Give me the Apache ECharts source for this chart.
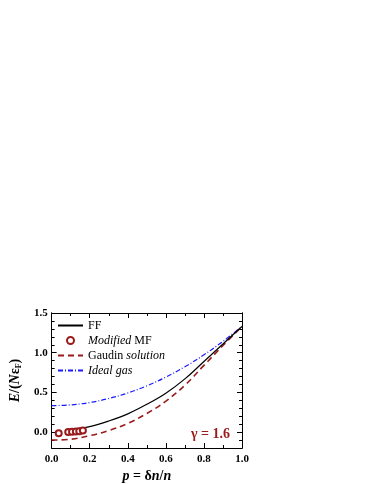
<!DOCTYPE html>
<html>
<head>
<meta charset="utf-8">
<script src="https://cdn.jsdelivr.net/npm/echarts@6/dist/echarts.min.js"></script>
<style>
  html, body { margin: 0; padding: 0; background: #fff; }
  #chart { width: 374px; height: 484px; }
</style>
</head>
<body>
<div id="chart"></div>
<script>
// values
const pGrid = [0, 0.1, 0.2, 0.3, 0.4, 0.5, 0.6, 0.7, 0.8, 0.9, 1.0];
const ffP = [0.09, 0.1, 0.2, 0.3, 0.4, 0.5, 0.6, 0.7, 0.8, 0.9, 1.0];
const ffE = [0.02, 0.03, 0.07, 0.14, 0.23, 0.35, 0.49, 0.67, 0.89, 1.11, 1.33];
const gaudinE = [-0.10, -0.09, -0.045, 0.02, 0.11, 0.235, 0.39, 0.59, 0.84, 1.09, 1.33];
const idealE = [0.333, 0.343, 0.373, 0.423, 0.493, 0.583, 0.693, 0.823, 0.973, 1.143, 1.333];
const mfP = [0.037, 0.087, 0.107, 0.127, 0.145, 0.164];
const mfE = [-0.015, 0.0, 0.005, 0.008, 0.012, 0.02];

const yMajor = [0, 0.5, 1.0, 1.5];
const yMinor = [-0.1, 0.1, 0.2, 0.3, 0.4, 0.6, 0.7, 0.8, 0.9, 1.1, 1.2, 1.3, 1.4];
const legendNames = ['FF', 'Modified MF', 'Gaudin solution', 'Ideal gas'];

const zip = (xs, ys) => xs.map((x, i) => [x, ys[i]]);

const serif = 'Liberation Serif';
const darkRed = '#9a1b1b';

const chart = echarts.init(document.getElementById('chart'), null, { renderer: 'canvas' });

function yAxisOf(pos, ticks, len, labels) {
  return {
    type: 'value', position: pos, min: -0.2, max: 1.5,
    axisLine: { show: true, onZero: false, lineStyle: { color: '#000', width: 1 } },
    axisTick: { show: true, inside: true, length: len, customValues: ticks, lineStyle: { color: '#000' } },
    axisLabel: labels ? {
      show: true, customValues: ticks, margin: 4, fontFamily: serif, fontWeight: 'bold',
      fontSize: 11, color: '#000', formatter: v => v.toFixed(1)
    } : { show: false },
    splitLine: { show: false }
  };
}
function xAxisOf(pos, labels) {
  return {
    type: 'value', position: pos, min: 0, max: 1, interval: 0.2,
    axisLine: { show: true, onZero: false, lineStyle: { color: '#000', width: 1 } },
    axisTick: { show: true, inside: true, length: 5, lineStyle: { color: '#000' } },
    minorTick: { show: true, splitNumber: 2, length: 3, lineStyle: { color: '#000' } },
    axisLabel: labels ? {
      show: true, margin: 6, fontFamily: serif, fontWeight: 'bold',
      fontSize: 11, color: '#000', formatter: v => v.toFixed(1)
    } : { show: false },
    splitLine: { show: false }
  };
}

const xMain = xAxisOf('bottom', true);
xMain.name = '{i|p} = δ{i|n}/{i|n}';
xMain.nameLocation = 'middle';
xMain.nameGap = 21;
xMain.nameTextStyle = {
  fontFamily: serif, fontWeight: 'bold', fontSize: 14, color: '#000',
  rich: { i: { fontFamily: serif, fontWeight: 'bold', fontStyle: 'italic', fontSize: 14, color: '#000' } }
};

const yMain = yAxisOf('left', yMajor, 5, true);
yMain.name = '{i|E}/({i|N}ε{s|F})';
yMain.nameLocation = 'middle';
yMain.nameGap = 27;
yMain.nameTextStyle = {
  fontFamily: serif, fontWeight: 'bold', fontSize: 14, color: '#000',
  rich: {
    i: { fontFamily: serif, fontWeight: 'bold', fontStyle: 'italic', fontSize: 14, color: '#000' },
    s: { fontFamily: serif, fontWeight: 'bold', fontSize: 8, color: '#000', padding: [8, 0, 0, 0] }
  }
};

const hideMark = { opacity: 0 };

const option = {
  backgroundColor: '#fff',
  animation: false,
  grid: { left: 43, right: 132, top: 313, bottom: 32 },
  legend: {
    orient: 'vertical', left: 57, top: 318, padding: 0, itemGap: 0,
    itemWidth: 25, itemHeight: 7,
    data: [
      { name: legendNames[0], itemStyle: hideMark },
      { name: legendNames[1], icon: 'emptyCircle', itemStyle: { borderWidth: 1, borderColor: darkRed, color: darkRed } },
      { name: legendNames[2], itemStyle: hideMark },
      { name: legendNames[3], itemStyle: hideMark }
    ],
    formatter: n => ({
      'FF': 'FF',
      'Modified MF': '{i|Modified} MF',
      'Gaudin solution': 'Gaudin {i|solution}',
      'Ideal gas': '{i|Ideal gas}'
    })[n],
    textStyle: {
      fontFamily: serif, fontSize: 12, color: '#000', lineHeight: 15,
      rich: { i: { fontFamily: serif, fontStyle: 'italic', fontSize: 12, color: '#000', lineHeight: 15 } }
    }
  },
  xAxis: [xMain, xAxisOf('top', false)],
  yAxis: [
    yMain,
    yAxisOf('left', yMinor, 3, false),
    yAxisOf('right', yMajor, 5, false),
    yAxisOf('right', yMinor, 3, false)
  ],
  graphic: [{
    type: 'text', right: 144, top: 427,
    style: { text: 'γ = 1.6', fontFamily: serif, fontWeight: 'bold', fontSize: 14, fill: darkRed }
  }],
  series: [
    {
      name: legendNames[3], type: 'line', data: zip(pGrid, idealE), smooth: 0.4,
      symbol: 'none', lineStyle: { color: '#1a1aff', width: 1.2, type: [5, 2, 1, 2] },
      itemStyle: { color: '#1a1aff' }, z: 2
    },
    {
      name: legendNames[2], type: 'line', data: zip(pGrid, gaudinE), smooth: 0.4,
      symbol: 'none', lineStyle: { color: darkRed, width: 1.6, type: [6, 4] },
      itemStyle: { color: darkRed }, z: 3
    },
    {
      name: legendNames[0], type: 'line', data: zip(ffP, ffE), smooth: 0.4,
      symbol: 'none', lineStyle: { color: '#000', width: 1.2 },
      itemStyle: { color: '#000' }, z: 4
    },
    {
      name: legendNames[1], type: 'scatter', data: zip(mfP, mfE),
      symbol: 'emptyCircle', symbolSize: 6,
      itemStyle: { color: darkRed, borderColor: darkRed, borderWidth: 1, opacity: 1 }, z: 5
    }
  ]
};

chart.setOption(option);
</script>
</body>
</html>
